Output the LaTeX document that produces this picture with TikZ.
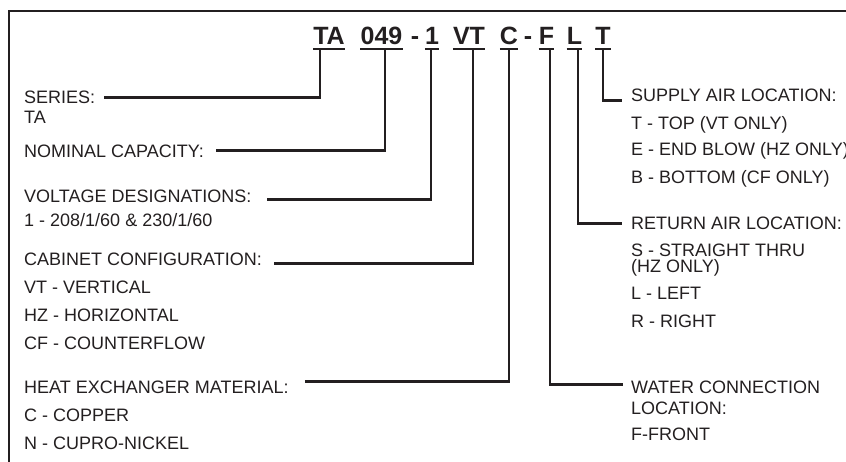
\documentclass[tikz,border=0pt]{standalone}
\usepackage{fontspec}
\setmainfont{Liberation Sans}
\usetikzlibrary{positioning}
\definecolor{ink}{HTML}{231F20}
\tikzset{
    codepart/.style={font=\fontsize{25}{25}\selectfont\bfseries,text=ink,inner sep=0pt,anchor=base},
    fieldname/.style={font=\fontsize{18}{18}\selectfont,text=ink,inner sep=0pt,anchor=base west},
    fieldopt/.style={fieldname},
    codeline/.style={draw=ink,line width=2pt},
    leader/.style={draw=ink,line width=2.4pt},
    frameline/.style={draw=ink,line width=2.6pt}
}

\begin{document}
\begin{tikzpicture}[x=1pt,y=-1pt]
        \useasboundingbox (0,0) rectangle (846,462);
        \draw[frameline] (9,462) -- (9,11) -- (846,11);
        % model number
        \node[codepart] (cTA) at (329,45) {TA};
        \node[codepart] (c049) at (381.5,45) {049};
        \node[codepart] (dashA) at (415,45) {-};
        \node[codepart] (c1) at (432,45) {1};
        \node[codepart] (cVT) at (469,45) {VT};
        \node[codepart] (cC) at (509,45) {C};
        \node[codepart] (dashB) at (528,45) {-};
        \node[codepart] (cF) at (546.5,45) {F};
        \node[codepart] (cL) at (574.5,45) {L};
        \node[codepart] (cT) at (603,45) {T};
        \draw[codeline] ([yshift=-4pt]cTA.base west) -- ([yshift=-4pt]cTA.base east);
        \draw[codeline] ([yshift=-4pt]c049.base west) -- ([yshift=-4pt]c049.base east);
        \draw[codeline] ([yshift=-4pt]c1.base west) -- ([yshift=-4pt]c1.base east);
        \draw[codeline] ([yshift=-4pt]cVT.base west) -- ([yshift=-4pt]cVT.base east);
        \draw[codeline] ([yshift=-4pt]cC.base west) -- ([yshift=-4pt]cC.base east);
        \draw[codeline] ([yshift=-4pt]cF.base west) -- ([yshift=-4pt]cF.base east);
        \draw[codeline] ([yshift=-4pt]cL.base west) -- ([yshift=-4pt]cL.base east);
        \draw[codeline] ([yshift=-4pt]cT.base west) -- ([yshift=-4pt]cT.base east);
        \coordinate (tTA) at (320,49);
        \coordinate (t049) at (385,49);
        \coordinate (t1) at (431,49);
        \coordinate (tVT) at (473,49);
        \coordinate (tC) at (509,49);
        \coordinate (tF) at (550,49);
        \coordinate (tL) at (578,49);
        \coordinate (tT) at (603,49);
        % left fields
        \node[fieldname] (series) at (24,103.5) {SERIES:};
        \node[fieldopt] (seriesTA) at (24,123.5) {TA};
        \node[fieldname] (capacity) at (24,157.5) {NOMINAL CAPACITY:};
        \node[fieldname] (voltage) at (24,202.5) {VOLTAGE DESIGNATIONS:};
        \node[fieldopt] (voltOne) at (24,226.5) {1 - 208/1/60 \& 230/1/60};
        \node[fieldname] (cabinet) at (24,265.5) {CABINET CONFIGURATION:};
        \node[fieldopt] (cabVT) at (24,293.5) {VT - VERTICAL};
        \node[fieldopt] (cabHZ) at (24,321.5) {HZ - HORIZONTAL};
        \node[fieldopt] (cabCF) at (24,349.5) {CF - COUNTERFLOW};
        \node[fieldname] (exchanger) at (24,393.5) {HEAT EXCHANGER MATERIAL:};
        \node[fieldopt] (exC) at (24,421.5) {C - COPPER};
        \node[fieldopt] (exN) at (24,449.5) {N - CUPRO-NICKEL};
        % right fields
        \node[fieldname] (supply) at (631,101.5) {SUPPLY AIR LOCATION:};
        \node[fieldopt] (supT) at (631,129.5) {T - TOP (VT ONLY)};
        \node[fieldopt] (supE) at (631,155.5) {E - END BLOW (HZ ONLY)};
        \node[fieldopt] (supB) at (631,183.5) {B - BOTTOM (CF ONLY)};
        \node[fieldname] (return) at (631,229.5) {RETURN AIR LOCATION:};
        \node[fieldopt] (retS) at (631,256.5) {S - STRAIGHT THRU};
        \node[fieldopt] (retSb) at (631,272.5) {(HZ ONLY)};
        \node[fieldopt] (retL) at (631,299.5) {L - LEFT};
        \node[fieldopt] (retR) at (631,327.5) {R - RIGHT};
        \node[fieldname] (water) at (631,393.5) {WATER CONNECTION};
        \node[fieldname] (waterB) at (631,414.5) {LOCATION:};
        \node[fieldopt] (watF) at (631,440.5) {F-FRONT};
        % leaders
        \draw[leader] ([xshift=9pt]series.east) -| (tTA);
        \draw[leader] ([shift={(12,-1)}]capacity.east) -| (t049);
        \draw[leader] ([shift={(16,3)}]voltage.east) -| (t1);
        \draw[leader] ([shift={(12,4)}]cabinet.east) -| (tVT);
        \draw[leader] ([shift={(16,-6)}]exchanger.east) -| (tC);
        \draw[leader] (tT) |- ([shift={(-9,5)}]supply.west);
        \draw[leader] (tL) |- ([xshift=-9pt]return.west);
        \draw[leader] (tF) |- ([shift={(-8,-3)}]water.west);
    \end{tikzpicture}
\end{document}
